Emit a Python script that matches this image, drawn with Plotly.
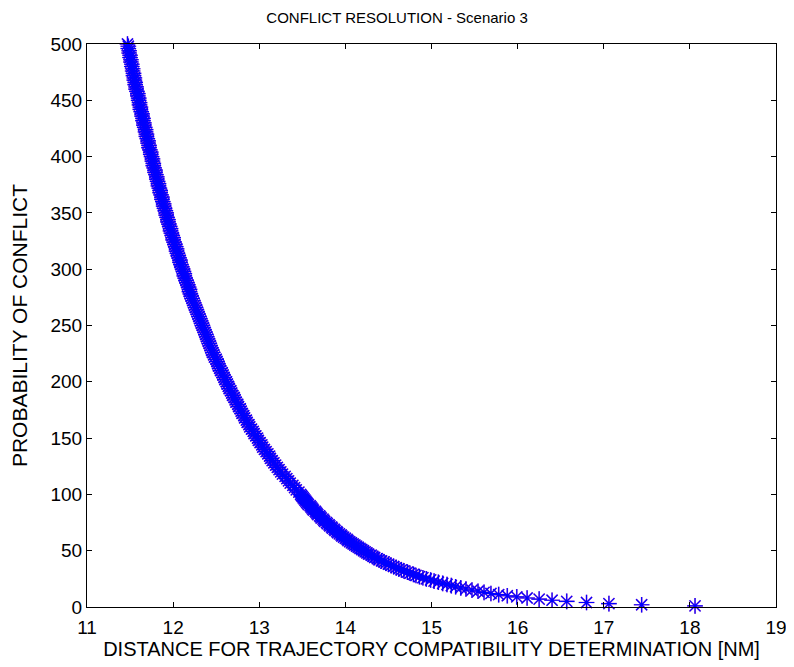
import plotly.graph_objects as go

# Probability of conflict (y): one point per unit up to 100, then every 2 units
prob = [1, 2, 3, 4, 5, 6, 7, 8, 9, 10, 11, 12, 13, 14, 15, 16, 17, 18, 19, 20,
        21, 22, 23, 24, 25, 26, 27, 28, 29, 30, 31, 32, 33, 34, 35, 36, 37, 38, 39, 40,
        41, 42, 43, 44, 45, 46, 47, 48, 49, 50, 51, 52, 53, 54, 55, 56, 57, 58, 59, 60,
        61, 62, 63, 64, 65, 66, 67, 68, 69, 70, 71, 72, 73, 74, 75, 76, 77, 78, 79, 80,
        81, 82, 83, 84, 85, 86, 87, 88, 89, 90, 91, 92, 93, 94, 95, 96, 97, 98, 99, 100,
        102, 104, 106, 108, 110, 112, 114, 116, 118, 120, 122, 124, 126, 128, 130,
        132, 134, 136, 138, 140, 142, 144, 146, 148, 150, 152, 154, 156, 158, 160,
        162, 164, 166, 168, 170, 172, 174, 176, 178, 180, 182, 184, 186, 188, 190,
        192, 194, 196, 198, 200, 202, 204, 206, 208, 210, 212, 214, 216, 218, 220,
        222, 224, 226, 228, 230, 232, 234, 236, 238, 240, 242, 244, 246, 248, 250,
        252, 254, 256, 258, 260, 262, 264, 266, 268, 270, 272, 274, 276, 278, 280,
        282, 284, 286, 288, 290, 292, 294, 296, 298, 300, 302, 304, 306, 308, 310,
        312, 314, 316, 318, 320, 322, 324, 326, 328, 330, 332, 334, 336, 338, 340,
        342, 344, 346, 348, 350, 352, 354, 356, 358, 360, 362, 364, 366, 368, 370,
        372, 374, 376, 378, 380, 382, 384, 386, 388, 390, 392, 394, 396, 398, 400,
        402, 404, 406, 408, 410, 412, 414, 416, 418, 420, 422, 424, 426, 428, 430,
        432, 434, 436, 438, 440, 442, 444, 446, 448, 450, 452, 454, 456, 458, 460,
        462, 464, 466, 468, 470, 472, 474, 476, 478, 480, 482, 484, 486, 488, 490,
        492, 494, 496, 498, 500]

# Distance [NM] for each value above
distance = [18.06, 17.44, 17.06, 16.80, 16.57, 16.40, 16.25, 16.11, 15.99, 15.88,
            15.78, 15.69, 15.61, 15.54, 15.47, 15.40, 15.34, 15.28, 15.23, 15.18,
            15.13, 15.08, 15.03, 14.99, 14.94, 14.90, 14.86, 14.82, 14.79, 14.75,
            14.72, 14.68, 14.65, 14.62, 14.59, 14.56, 14.53, 14.50, 14.47, 14.45,
            14.42, 14.39, 14.37, 14.34, 14.32, 14.30, 14.27, 14.25, 14.23, 14.21,
            14.19, 14.17, 14.15, 14.13, 14.11, 14.09, 14.07, 14.05, 14.03, 14.02,
            14.00, 13.98, 13.96, 13.95, 13.93, 13.91, 13.90, 13.88, 13.87, 13.85,
            13.84, 13.82, 13.81, 13.79, 13.78, 13.76, 13.75, 13.74, 13.72, 13.71,
            13.70, 13.68, 13.67, 13.66, 13.65, 13.63, 13.62, 13.61, 13.60, 13.59,
            13.57, 13.56, 13.55, 13.54, 13.53, 13.52, 13.51, 13.50, 13.49, 13.48,
            13.46, 13.43, 13.41, 13.39, 13.36, 13.34, 13.32, 13.30, 13.27, 13.25,
            13.23, 13.21, 13.19, 13.17, 13.15, 13.13, 13.12, 13.10, 13.08, 13.06,
            13.04, 13.03, 13.01, 12.99, 12.98, 12.96, 12.94, 12.93, 12.91, 12.89,
            12.88, 12.86, 12.85, 12.83, 12.82, 12.80, 12.79, 12.78, 12.76, 12.75,
            12.73, 12.72, 12.71, 12.69, 12.68, 12.67, 12.65, 12.64, 12.63, 12.62,
            12.60, 12.59, 12.58, 12.57, 12.55, 12.54, 12.53, 12.52, 12.51, 12.50,
            12.48, 12.47, 12.46, 12.45, 12.44, 12.43, 12.42, 12.41, 12.40, 12.39,
            12.38, 12.37, 12.36, 12.35, 12.34, 12.33, 12.32, 12.31, 12.30, 12.29,
            12.28, 12.27, 12.26, 12.25, 12.24, 12.23, 12.22, 12.21, 12.20, 12.19,
            12.19, 12.18, 12.17, 12.16, 12.15, 12.14, 12.13, 12.13, 12.12, 12.11,
            12.10, 12.09, 12.08, 12.08, 12.07, 12.06, 12.05, 12.04, 12.04, 12.03,
            12.02, 12.01, 12.00, 12.00, 11.99, 11.98, 11.97, 11.97, 11.96, 11.95,
            11.94, 11.94, 11.93, 11.92, 11.92, 11.91, 11.90, 11.89, 11.89, 11.88,
            11.87, 11.87, 11.86, 11.85, 11.85, 11.84, 11.83, 11.83, 11.82, 11.81,
            11.81, 11.80, 11.79, 11.79, 11.78, 11.77, 11.77, 11.76, 11.76, 11.75,
            11.74, 11.74, 11.73, 11.72, 11.72, 11.71, 11.71, 11.70, 11.69, 11.69,
            11.68, 11.68, 11.67, 11.66, 11.66, 11.65, 11.65, 11.64, 11.64, 11.63,
            11.62, 11.62, 11.61, 11.61, 11.60, 11.60, 11.59, 11.59, 11.58, 11.57,
            11.57, 11.56, 11.56, 11.55, 11.55, 11.54, 11.54, 11.53, 11.53, 11.52,
            11.52, 11.51, 11.51, 11.50, 11.50, 11.49, 11.49, 11.48, 11.48, 11.47]

x_ticks = [11, 12, 13, 14, 15, 16, 17, 18, 19]
y_ticks = [0, 50, 100, 150, 200, 250, 300, 350, 400, 450, 500]

FONT = "Liberation Sans, Arial, sans-serif"

fig = go.Figure()
# faint magenta underlay (gives the purplish edge seen in the original)
fig.add_trace(go.Scatter(
    x=distance, y=prob, mode="markers",
    marker=dict(symbol="asterisk-open", size=13, color="rgba(170,0,170,0.6)",
                line=dict(color="rgba(170,0,170,0.6)", width=1.7)),
    cliponaxis=False, showlegend=False, hoverinfo="skip"))
fig.add_trace(go.Scatter(
    x=distance, y=prob, mode="markers",
    marker=dict(symbol="asterisk-open", size=13, color="#0000FF",
                line=dict(color="#0000FF", width=1.2)),
    cliponaxis=False, showlegend=False))

axis_common = dict(showline=True, linecolor="black", linewidth=1, mirror="ticks",
                   ticks="inside", ticklen=5, tickcolor="black", showgrid=False,
                   zeroline=False, automargin=False,
                   tickfont=dict(family=FONT, size=19, color="black"))

# the page body adds an 8 px margin, so the figure is sized to fit the 794x667 window
fig.update_layout(
    width=786, height=659,
    margin=dict(l=79, r=18, t=36, b=60),
    paper_bgcolor="white", plot_bgcolor="white",
    title=dict(text="CONFLICT RESOLUTION - Scenario 3", x=0.495, xanchor="center",
               y=0.985, yanchor="middle",
               font=dict(family=FONT, size=15, color="black")),
    xaxis=dict(range=[11, 19], tickmode="array", tickvals=x_ticks,
               ticktext=[str(v) for v in x_ticks], ticklabelstandoff=3,
               title=dict(text="DISTANCE FOR TRAJECTORY COMPATIBILITY DETERMINATION [NM]",
                          font=dict(family=FONT, size=20, color="black"), standoff=3),
               **axis_common),
    yaxis=dict(range=[0, 500], tickmode="array", tickvals=y_ticks,
               ticktext=[str(v) for v in y_ticks], ticklabelstandoff=0,
               title=dict(text="PROBABILITY OF CONFLICT",
                          font=dict(family=FONT, size=21, color="black"), standoff=18),
               **axis_common),
)

fig.write_html("out.html")
